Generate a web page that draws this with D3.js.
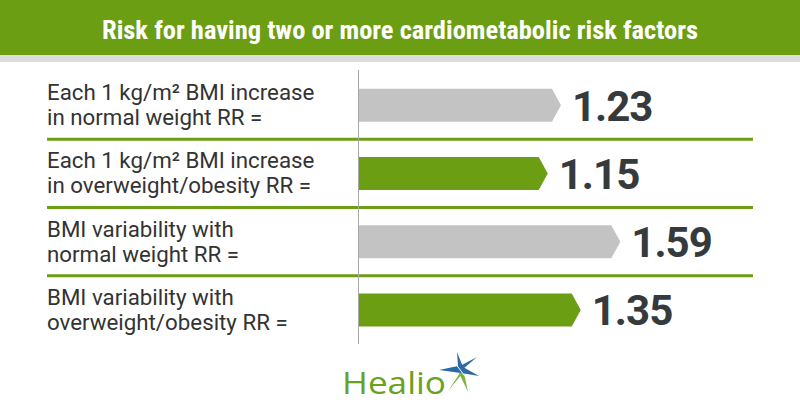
<!DOCTYPE html>
<html>
<head>
<meta charset="utf-8">
<script src="https://cdn.jsdelivr.net/npm/d3@7"></script>
<style>
  html, body { margin: 0; padding: 0; background: #fff; }
  svg { display: block; }
</style>
</head>
<body>
<svg id="chart" width="800" height="420"></svg>
<script>
// ---- data ----
const title = "Risk for having two or more cardiometabolic risk factors";
const categories = ["bmiNormal", "bmiOverweight", "varNormal", "varOverweight"];
const labelLine1 = ["Each 1 kg/m² BMI increase", "Each 1 kg/m² BMI increase", "BMI variability with", "BMI variability with"];
const labelLine2 = ["in normal weight RR =", "in overweight/obesity RR =", "normal weight RR =", "overweight/obesity RR ="];
const values = [1.23, 1.15, 1.59, 1.35];
const groups = ["normal", "overweight", "normal", "overweight"];
const valueLabels = ["1.23", "1.15", "1.59", "1.35"];

// ---- layout ----
const W = 800, H = 420;
const green = "#6b9e12";
const svg = d3.select("#chart");

const x = d3.scaleLinear().domain([0, 2]).range([358, 688]);
const y = d3.scaleBand().domain(categories).range([71, 344]).padding(0);
const color = d3.scaleOrdinal().domain(["normal", "overweight"]).range(["#c3c3c3", green]);
const barH = 33, tip = 9;

// header
svg.append("rect").attr("x", 0).attr("y", 0).attr("width", W).attr("height", 55).attr("fill", green);
svg.append("rect").attr("x", 0).attr("y", 55).attr("width", W).attr("height", 7).attr("fill", "#dcdcdc");
svg.append("text")
  .attr("x", 400).attr("y", 39)
  .attr("text-anchor", "middle")
  .attr("fill", "#fff")
  .attr("font-family", "'Roboto Condensed', 'Liberation Sans Narrow', Roboto, sans-serif")
  .attr("font-weight", "bold")
  .attr("font-size", 25)
  .attr("textLength", 596)
  .attr("lengthAdjust", "spacingAndGlyphs")
  .text(title);

// separators
const seps = categories.slice(1);
svg.selectAll("line.sep").data(seps).join("line")
  .attr("class", "sep")
  .attr("x1", 47).attr("x2", 753)
  .attr("y1", d => y(d)).attr("y2", d => y(d))
  .attr("stroke", green).attr("stroke-width", 3);

// axis line
svg.append("line")
  .attr("x1", x(0) + 0.5).attr("x2", x(0) + 0.5)
  .attr("y1", 70).attr("y2", 344)
  .attr("stroke", "#a8a8a8").attr("stroke-width", 1);

// bars (arrow shaped)
const rows = categories.map((c, i) => ({ c, v: values[i], g: groups[i], l1: labelLine1[i], l2: labelLine2[i], vl: valueLabels[i] }));
svg.selectAll("path.bar").data(rows).join("path")
  .attr("class", "bar")
  .attr("fill", d => color(d.g))
  .attr("d", d => {
    const cy = y(d.c) + y.bandwidth() / 2;
    const x0 = x(0) + 1, x1 = x(d.v);
    const t = cy - barH / 2, b = cy + barH / 2;
    return `M${x0},${t}L${x1 - tip},${t}L${x1},${cy}L${x1 - tip},${b}L${x0},${b}Z`;
  });

// value labels
svg.selectAll("text.val").data(rows).join("text")
  .attr("class", "val")
  .attr("x", d => x(d.v) + 11)
  .attr("y", d => y(d.c) + y.bandwidth() / 2 + 15.5)
  .attr("fill", "#353a3d")
  .attr("font-family", "Roboto, sans-serif")
  .attr("font-weight", "bold")
  .attr("font-size", 42)
  .attr("letter-spacing", -1)
  .text(d => d.vl);

// category labels
const lab = svg.selectAll("text.cat").data(rows).join("text")
  .attr("class", "cat")
  .attr("fill", "#333")
  .attr("font-family", "Roboto, sans-serif")
  .attr("font-size", 22.3);
lab.append("tspan")
  .attr("x", 47)
  .attr("y", d => y(d.c) + y.bandwidth() / 2 - 5)
  .text(d => d.l1);
lab.append("tspan")
  .attr("x", 47)
  .attr("y", d => y(d.c) + y.bandwidth() / 2 + 20)
  .text(d => d.l2);

// Healio logo
const logo = svg.append("g");
logo.append("text")
  .attr("x", 342).attr("y", 394)
  .attr("fill", "#6aa121")
  .attr("font-family", "'Open Sans', Lato, sans-serif")
  .attr("font-weight", 500)
  .attr("font-size", 31)
  .attr("textLength", 104)
  .attr("lengthAdjust", "spacingAndGlyphs")
  .text("Healio");
// star mark
const sx = 461, sy = 371;
logo.append("path")
  .attr("fill", "#2c6aa6")
  .attr("d", `M${sx-4},${sy-19} L${sx+2},${sy-4} L${sx+18},${sy+5} L${sx},${sy+2} L${sx-22},${sy-1} L${sx-3},${sy-5} Z`);
logo.append("path")
  .attr("fill", "#2c6aa6")
  .attr("d", `M${sx+16},${sy-14} L${sx+2},${sy-2} L${sx-1},${sy-5} Z`);
logo.append("path")
  .attr("fill", "#7ab33a")
  .attr("d", `M${sx-2},${sy+2} L${sx+3},${sy+2} L${sx+7},${sy+21} Z`);
logo.append("path")
  .attr("fill", "#7ab33a")
  .attr("d", `M${sx-1},${sy+2} L${sx-13},${sy+20} L${sx+1},${sy+3} Z`);
logo.append("line")
  .attr("x1", sx - 6).attr("y1", sy - 8).attr("x2", sx + 6).attr("y2", sy + 8)
  .attr("stroke", "#fff").attr("stroke-width", 1);
</script>
</body>
</html>
